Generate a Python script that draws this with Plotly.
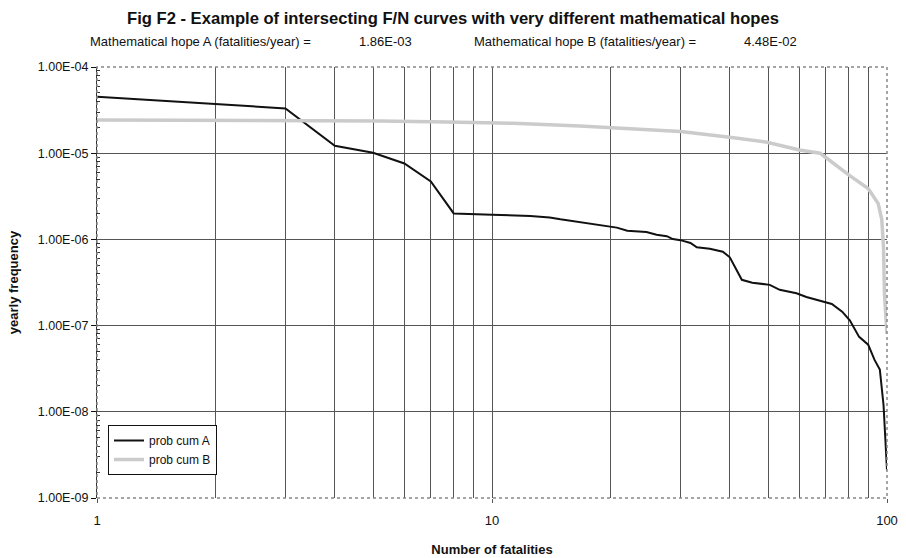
import plotly.graph_objects as go

# Series A (black)
a_x = [1, 2, 3, 4, 5, 6, 7, 8, 9, 10, 12.5, 14, 14.9, 16.7, 17.7, 19.9, 20.7, 22, 24.6, 26.1, 27.7,
       28.7, 30, 31.8, 33, 35.6, 38.4, 40, 41.7, 42.9, 45.6, 50.5, 53.5, 59, 62.5, 67.7, 72.5, 77,
       80.5, 85, 89.6, 93, 95.9, 98, 99, 100]
a_y = [4.53e-5, 3.69e-5, 3.31e-5, 1.22e-5, 1.01e-5, 7.6e-6, 4.7e-6, 2.0e-6, 1.95e-6, 1.93e-6,
       1.87e-6, 1.8e-6, 1.71e-6, 1.58e-6, 1.5e-6, 1.38e-6, 1.37e-6, 1.26e-6, 1.22e-6, 1.13e-6,
       1.09e-6, 1.01e-6, 9.8e-7, 9.1e-7, 8.1e-7, 7.8e-7, 7.2e-7, 6.2e-7, 4.4e-7, 3.4e-7, 3.15e-7,
       2.97e-7, 2.6e-7, 2.37e-7, 2.15e-7, 1.95e-7, 1.78e-7, 1.45e-7, 1.15e-7, 7.4e-8, 6.0e-8,
       4.0e-8, 3.1e-8, 1.2e-8, 5.0e-9, 2.1e-9]

# Series B (grey)
b_x = [1, 3, 5.2, 7.7, 11.3, 16.7, 24.6, 30, 40, 49.7, 60, 67.7, 69.6, 80, 89.6, 95, 97, 98,
       98.5, 99.5, 100]
b_y = [2.43e-5, 2.4e-5, 2.36e-5, 2.3e-5, 2.22e-5, 2.07e-5, 1.9e-5, 1.78e-5, 1.53e-5, 1.34e-5,
       1.09e-5, 1.0e-5, 9.1e-6, 5.6e-6, 3.9e-6, 2.6e-6, 1.7e-6, 8.1e-7, 2.4e-7, 9.6e-8, 8.0e-8]

y_ticks = [1e-9, 1e-8, 1e-7, 1e-6, 1e-5, 1e-4]
y_labels = ["1.00E-09", "1.00E-08", "1.00E-07", "1.00E-06", "1.00E-05", "1.00E-04"]
x_ticks = [1, 10, 100]
x_labels = ["1", "10", "100"]

title = "Fig F2 - Example of intersecting F/N curves with very different mathematical hopes"
hope_a_label = "Mathematical hope A (fatalities/year) ="
hope_a_value = "1.86E-03"
hope_b_label = "Mathematical hope B (fatalities/year) ="
hope_b_value = "4.48E-02"

FONT = "Liberation Sans, Arial, sans-serif"

x_minor = [d * m for d in (1, 10) for m in range(2, 10)]
y_minor = [d * m for d in (1e-9, 1e-8, 1e-7, 1e-6, 1e-5) for m in range(2, 10)]

fig = go.Figure()
fig.add_trace(go.Scatter(x=a_x, y=a_y, mode="lines", name="prob cum A",
                         line=dict(color="#111111", width=2)))
fig.add_trace(go.Scatter(x=b_x, y=b_y, mode="lines", name="prob cum B",
                         line=dict(color="#cbcbcb", width=3.5)))

L, R, T, B = 97, 19, 67, 60
W, H = 906, 558
pw = W - L - R
ph = H - T - B

def px(xp):
    return (xp - L) / pw

fig.update_layout(
    width=W, height=H,
    margin=dict(l=L, r=R, t=T, b=B, autoexpand=False),
    paper_bgcolor="white", plot_bgcolor="white",
    font=dict(family=FONT, size=12, color="#111111"),
    showlegend=True,
    legend=dict(x=px(108), y=(H - B - 425) / ph, xanchor="left", yanchor="top",
                bgcolor="white", bordercolor="#111111", borderwidth=1,
                font=dict(family=FONT, size=12, color="#111111"),
                tracegroupgap=0, itemwidth=30),
    xaxis=dict(type="log", range=[0, 2], tickvals=x_ticks, ticktext=x_labels,
               automargin=False,
               showgrid=True, gridcolor="#555555", gridwidth=1,
               ticks="outside", ticklen=4, tickcolor="#555555", ticklabelstandoff=6,
               showline=False, zeroline=False,
               tickfont=dict(family=FONT, size=13, color="#111111"),
               title=dict(text="<b>Number of fatalities</b>", standoff=18,
                          font=dict(family=FONT, size=13, color="#111111")),
               minor=dict(tickvals=x_minor, showgrid=True, gridcolor="#555555",
                          gridwidth=1, ticks="")),
    yaxis=dict(type="log", range=[-9, -4], tickvals=y_ticks, ticktext=y_labels,
               automargin=False,
               showgrid=True, gridcolor="#555555", gridwidth=1,
               ticks="outside", ticklen=5, tickcolor="#111111",
               showline=True, linecolor="#333333", linewidth=1, zeroline=False,
               tickfont=dict(family=FONT, size=12.5, color="#111111"),
               title=dict(text="<b>yearly frequency</b>", standoff=16,
                          font=dict(family=FONT, size=13, color="#111111")),
               minor=dict(tickvals=y_minor, ticks="inside", ticklen=3,
                          tickcolor="#333333", showgrid=False)),
)

# dotted frame around the plot area
fig.add_shape(type="rect", xref="paper", yref="paper", x0=0, x1=1, y0=0, y1=1,
              line=dict(color="#888888", width=1.5, dash="dot"), layer="above")

fig.add_annotation(text="<b>" + title + "</b>", xref="paper", yref="paper",
                   x=px(453), y=1 + (T - 18) / ph, xanchor="center", yanchor="middle",
                   showarrow=False, font=dict(family=FONT, size=16.6, color="#111111"))
for txt, xc in [(hope_a_label, 88), (hope_a_value, 357), (hope_b_label, 472), (hope_b_value, 742)]:
    fig.add_annotation(text=txt, xref="paper", yref="paper",
                       x=px(xc), y=1 + (T - 42) / ph, xanchor="left", yanchor="middle",
                       showarrow=False, font=dict(family=FONT, size=13, color="#111111"))

fig.write_html("out.html", config={"displayModeBar": False},
               post_script="document.body.style.margin='0';document.body.style.padding='0';")
